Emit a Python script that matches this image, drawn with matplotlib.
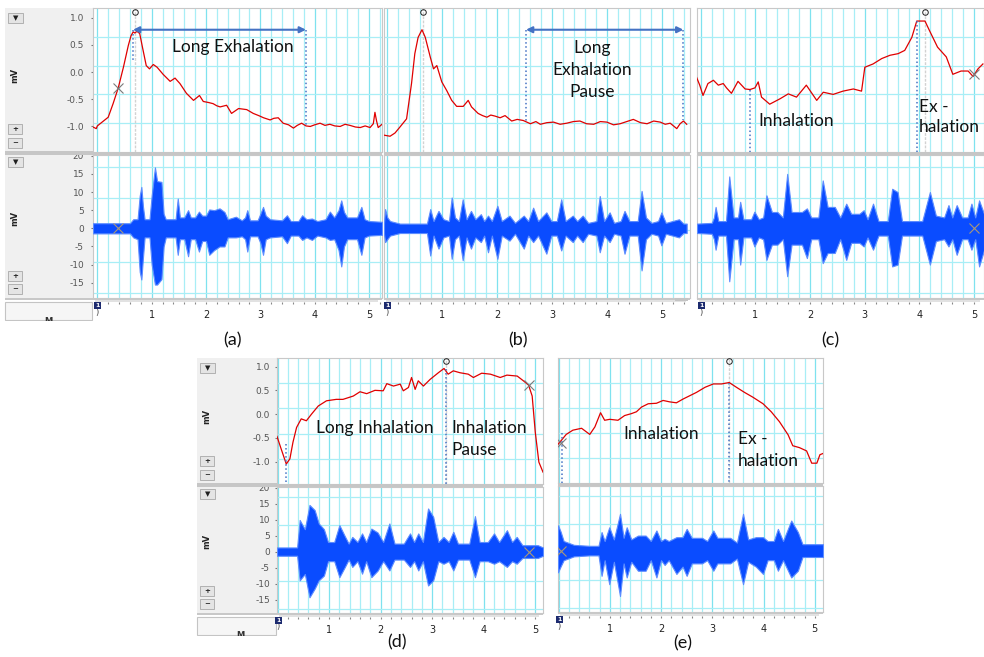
import matplotlib.pyplot as plt
from matplotlib.patches import Rectangle
import numpy as np

plt.rcParams['axes.unicode_minus'] = False

W, H = 984, 657

# breathing belt traces (time s, mV)
a_trace = [(-0.08, -1.01), (-0.02, -1.04), (0.00, -0.99), (0.20, -0.83), (0.29, -0.58),
           (0.385, -0.29), (0.48, 0.09), (0.57, 0.49), (0.62, 0.67), (0.66, 0.74),
           (0.69, 0.72), (0.73, 0.75), (0.78, 0.71), (0.83, 0.46), (0.90, 0.12),
           (0.96, 0.06), (1.03, 0.14), (1.10, 0.09), (1.21, -0.04), (1.34, -0.17),
           (1.43, -0.11), (1.52, -0.21), (1.64, -0.39), (1.77, -0.52), (1.88, -0.43),
           (1.95, -0.54), (2.05, -0.56), (2.13, -0.58), (2.20, -0.62), (2.26, -0.64),
           (2.38, -0.61), (2.47, -0.76), (2.60, -0.67), (2.75, -0.69), (2.87, -0.76),
           (2.97, -0.80), (3.06, -0.84), (3.18, -0.88), (3.25, -0.85), (3.33, -0.84),
           (3.42, -0.94), (3.52, -0.97), (3.61, -1.03), (3.68, -0.98), (3.76, -0.94),
           (3.84, -0.99), (3.92, -1.00), (4.00, -0.97), (4.10, -0.94), (4.19, -0.98),
           (4.28, -0.96), (4.37, -0.99), (4.47, -1.00), (4.56, -0.96), (4.65, -0.98),
           (4.75, -1.01), (4.84, -1.02), (4.93, -0.99), (5.02, -1.02), (5.08, -0.95),
           (5.11, -0.74), (5.14, -0.90), (5.17, -1.02), (5.24, -0.96)]
b_trace = [(-0.06, -1.16), (0.05, -1.18), (0.14, -1.12), (0.23, -1.01), (0.35, -0.86),
           (0.44, -0.21), (0.50, 0.34), (0.56, 0.64), (0.63, 0.78), (0.69, 0.64),
           (0.78, 0.28), (0.84, 0.06), (0.90, 0.12), (0.99, -0.18), (1.08, -0.34),
           (1.17, -0.52), (1.26, -0.63), (1.38, -0.63), (1.47, -0.52), (1.53, -0.64),
           (1.65, -0.76), (1.73, -0.80), (1.81, -0.83), (1.88, -0.79), (1.96, -0.81),
           (2.05, -0.84), (2.14, -0.80), (2.26, -0.90), (2.36, -0.87), (2.47, -0.89),
           (2.60, -0.95), (2.70, -0.91), (2.78, -0.96), (2.90, -0.93), (3.02, -0.92),
           (3.14, -0.96), (3.26, -0.94), (3.38, -0.91), (3.50, -0.90), (3.62, -0.95),
           (3.75, -0.96), (3.87, -0.91), (3.99, -0.92), (4.11, -0.97), (4.23, -0.95),
           (4.35, -0.91), (4.47, -0.87), (4.60, -0.93), (4.72, -0.95), (4.84, -0.90),
           (4.96, -0.92), (5.05, -0.96), (5.14, -0.94), (5.26, -1.04), (5.32, -0.95),
           (5.38, -0.90), (5.44, -0.96)]
c_trace = [(-0.08, -0.09), (-0.02, -0.24), (0.04, -0.43), (0.13, -0.21), (0.23, -0.15),
           (0.32, -0.24), (0.41, -0.21), (0.47, -0.29), (0.56, -0.39), (0.68, -0.17),
           (0.81, -0.31), (0.90, -0.32), (0.99, -0.29), (1.05, -0.18), (1.11, -0.46),
           (1.26, -0.59), (1.45, -0.49), (1.60, -0.40), (1.75, -0.46), (1.93, -0.24),
           (2.12, -0.52), (2.24, -0.37), (2.42, -0.41), (2.60, -0.35), (2.79, -0.31),
           (2.94, -0.35), (3.00, 0.09), (3.15, 0.15), (3.31, 0.25), (3.46, 0.31),
           (3.61, 0.34), (3.73, 0.40), (3.86, 0.64), (3.95, 0.94), (4.10, 0.94),
           (4.18, 0.77), (4.33, 0.46), (4.49, 0.28), (4.61, -0.04), (4.76, 0.02),
           (4.89, 0.02), (4.98, -0.08), (5.07, 0.06), (5.16, 0.15)]
d_trace = [(-0.01, -0.47), (0.07, -0.73), (0.17, -1.05), (0.24, -0.94), (0.30, -0.59),
           (0.37, -0.28), (0.46, -0.10), (0.56, -0.14), (0.66, 0.00), (0.79, 0.17),
           (0.95, 0.28), (1.14, 0.31), (1.27, 0.31), (1.47, 0.38), (1.60, 0.47),
           (1.73, 0.43), (1.89, 0.50), (2.05, 0.49), (2.12, 0.64), (2.25, 0.59),
           (2.38, 0.63), (2.44, 0.49), (2.54, 0.56), (2.60, 0.77), (2.67, 0.52),
           (2.73, 0.70), (2.83, 0.59), (2.96, 0.73), (3.12, 0.87), (3.23, 0.96),
           (3.31, 0.84), (3.41, 0.91), (3.54, 0.87), (3.70, 0.84), (3.80, 0.77),
           (3.96, 0.86), (4.13, 0.84), (4.32, 0.77), (4.45, 0.82), (4.65, 0.80),
           (4.77, 0.70), (4.87, 0.61), (4.94, 0.38), (5.00, -0.38), (5.07, -1.01),
           (5.15, -1.22)]
e_trace = [(-0.01, -0.65), (0.06, -0.56), (0.15, -0.44), (0.28, -0.35), (0.45, -0.31),
           (0.61, -0.44), (0.71, -0.28), (0.82, 0.02), (0.90, -0.14), (1.00, -0.12),
           (1.16, -0.14), (1.29, -0.04), (1.42, 0.00), (1.52, 0.04), (1.62, 0.14),
           (1.75, 0.21), (1.91, 0.22), (2.04, 0.28), (2.17, 0.25), (2.30, 0.23),
           (2.43, 0.31), (2.56, 0.38), (2.69, 0.45), (2.86, 0.56), (3.02, 0.63),
           (3.18, 0.63), (3.33, 0.66), (3.47, 0.56), (3.63, 0.45), (3.79, 0.35),
           (3.99, 0.21), (4.15, 0.04), (4.31, -0.17), (4.48, -0.45), (4.57, -0.68),
           (4.70, -0.72), (4.84, -0.79), (4.94, -1.05), (5.04, -1.05), (5.10, -0.87),
           (5.17, -0.84)]

# microphone envelopes (time s, upper mV, lower mV)
a_audio = [(-0.08, 1.4, -1.4), (0.60, 1.4, -1.4), (0.66, 2.5, -2.5), (0.74, 2.5, -3.0),
           (0.78, 9.0, -12.0), (0.81, 11.4, -14.1), (0.84, 6.0, -8.0), (0.87, 2.5, -2.5),
           (0.96, 2.5, -2.5), (1.00, 9.0, -10.0), (1.06, 16.8, -15.5), (1.10, 13.0, -15.5),
           (1.18, 12.8, -14.0), (1.22, 4.0, -5.0), (1.26, 2.5, -2.5), (1.44, 2.5, -2.5),
           (1.48, 8.2, -7.3), (1.52, 3.0, -3.0), (1.60, 3.0, -3.0), (1.67, 5.0, -7.7),
           (1.72, 3.0, -3.0), (1.80, 3.0, -3.0), (1.87, 4.6, -6.4), (1.93, 3.5, -3.5),
           (2.00, 3.5, -3.5), (2.06, 5.2, -7.3), (2.15, 5.0, -6.0), (2.25, 5.5, -5.0),
           (2.34, 4.5, -5.0), (2.40, 2.5, -2.5), (2.55, 3.2, -2.5), (2.66, 2.2, -2.2),
           (2.72, 3.0, -3.0), (2.76, 5.0, -6.4), (2.81, 2.2, -2.2), (2.95, 2.2, -2.2),
           (3.00, 4.0, -4.0), (3.05, 5.9, -7.3), (3.10, 3.5, -3.0), (3.18, 2.5, -2.5),
           (3.40, 2.2, -2.2), (3.49, 3.6, -4.1), (3.56, 2.0, -2.0), (3.70, 2.0, -2.0),
           (3.77, 3.6, -3.2), (3.85, 2.5, -2.5), (3.95, 2.7, -3.2), (4.05, 2.0, -2.0),
           (4.20, 2.5, -2.5), (4.28, 4.6, -3.2), (4.36, 3.0, -3.0), (4.44, 5.0, -6.0),
           (4.49, 7.7, -10.5), (4.54, 4.5, -5.0), (4.60, 3.0, -3.0), (4.78, 3.0, -3.0),
           (4.86, 5.9, -7.3), (4.92, 2.5, -2.5), (5.00, 2.0, -2.0), (5.24, 1.8, -1.8)]
b_audio = [(-0.06, 1.5, -1.5), (-0.04, 5.3, -3.8), (0.00, 3.0, -3.0), (0.05, 2.0, -2.0),
           (0.23, 1.3, -1.3), (0.72, 1.3, -1.3), (0.78, 5.3, -7.5), (0.84, 2.0, -2.0),
           (0.93, 4.8, -5.6), (1.02, 2.5, -2.5), (1.12, 2.0, -2.0), (1.17, 8.5, -8.4),
           (1.23, 3.0, -3.0), (1.30, 2.0, -2.0), (1.37, 8.0, -8.8), (1.44, 2.5, -2.5),
           (1.52, 4.8, -5.6), (1.60, 2.5, -2.5), (1.70, 3.9, -3.8), (1.76, 2.0, -2.0),
           (1.83, 3.5, -6.6), (1.90, 2.0, -2.0), (2.00, 6.2, -8.4), (2.08, 2.0, -2.0),
           (2.22, 3.5, -3.4), (2.32, 1.5, -1.5), (2.48, 3.5, -5.6), (2.56, 2.0, -2.0),
           (2.65, 5.7, -3.8), (2.74, 2.0, -2.0), (2.89, 4.4, -7.0), (2.98, 2.0, -2.0),
           (3.08, 2.0, -2.0), (3.16, 8.0, -6.1), (3.24, 2.0, -2.0), (3.37, 3.5, -3.8),
           (3.45, 2.0, -2.0), (3.55, 3.5, -3.8), (3.65, 1.5, -1.5), (3.80, 2.0, -2.0),
           (3.86, 8.9, -6.6), (3.94, 2.0, -2.0), (4.04, 4.4, -3.8), (4.12, 1.5, -1.5),
           (4.24, 2.0, -2.0), (4.31, 4.8, -7.0), (4.40, 2.0, -2.0), (4.55, 2.0, -2.0),
           (4.62, 10.3, -11.6), (4.70, 3.0, -3.0), (4.80, 1.5, -1.5), (4.92, 2.0, -2.0),
           (4.98, 4.4, -4.7), (5.06, 1.5, -1.5), (5.30, 2.5, -2.5), (5.38, 1.3, -1.3),
           (5.44, 1.3, -1.3)]
c_audio = [(-0.07, 1.3, -1.3), (0.20, 1.5, -1.5), (0.24, 3.0, -3.0), (0.27, 5.9, -5.9),
           (0.32, 2.0, -2.0), (0.46, 2.0, -2.0), (0.52, 14.3, -14.6), (0.60, 3.0, -3.0),
           (0.68, 3.0, -3.0), (0.72, 7.3, -10.0), (0.78, 2.5, -2.5), (0.92, 2.5, -2.5),
           (0.98, 4.6, -5.0), (1.06, 2.5, -2.5), (1.14, 3.0, -3.0), (1.20, 9.1, -8.7),
           (1.30, 4.5, -4.5), (1.40, 4.5, -4.5), (1.50, 3.0, -3.0), (1.58, 15.0, -13.2),
           (1.66, 4.5, -4.5), (1.85, 4.5, -4.5), (1.94, 5.5, -8.2), (2.02, 3.0, -3.0),
           (2.15, 3.0, -3.0), (2.23, 13.2, -9.6), (2.32, 5.9, -6.8), (2.45, 5.9, -6.8),
           (2.55, 3.0, -3.0), (2.66, 6.8, -8.7), (2.75, 4.0, -4.0), (2.90, 4.0, -4.0),
           (2.98, 5.0, -5.0), (3.05, 2.5, -2.5), (3.15, 6.8, -5.9), (3.25, 2.0, -2.0),
           (3.42, 2.0, -2.0), (3.50, 10.9, -10.5), (3.60, 10.0, -10.0), (3.68, 2.0, -2.0),
           (4.05, 2.0, -2.0), (4.19, 10.0, -10.0), (4.30, 3.5, -3.5), (4.45, 3.0, -3.0),
           (4.53, 6.4, -5.0), (4.60, 3.0, -3.0), (4.68, 6.4, -7.3), (4.78, 3.0, -3.0),
           (4.88, 3.0, -3.0), (4.95, 6.8, -5.9), (5.02, 3.0, -3.0), (5.09, 7.7, -10.5),
           (5.18, 4.0, -6.0)]
d_audio = [(-0.01, 1.3, -1.3), (0.38, 1.3, -1.3), (0.43, 9.9, -9.0), (0.53, 7.0, -7.0),
           (0.62, 14.6, -14.3), (0.72, 13.0, -11.6), (0.80, 8.8, -9.0), (0.90, 7.0, -7.5),
           (0.98, 3.0, -3.0), (1.10, 3.0, -3.0), (1.20, 8.3, -8.0), (1.30, 5.0, -5.0),
           (1.38, 2.5, -2.5), (1.45, 4.6, -4.8), (1.55, 3.0, -3.0), (1.64, 5.7, -6.9),
           (1.72, 3.0, -3.0), (1.82, 7.2, -8.0), (1.94, 6.0, -6.0), (2.05, 3.0, -3.0),
           (2.17, 8.8, -5.9), (2.27, 2.5, -2.5), (2.45, 2.5, -2.5), (2.57, 5.7, -4.8),
           (2.65, 3.0, -3.0), (2.73, 5.7, -5.9), (2.82, 3.0, -3.0), (2.92, 13.5, -10.6),
           (3.02, 10.9, -9.0), (3.12, 3.0, -3.0), (3.22, 4.6, -3.8), (3.32, 3.0, -3.0),
           (3.41, 6.2, -5.9), (3.50, 2.5, -2.5), (3.72, 2.5, -2.5), (3.83, 11.1, -8.0),
           (3.92, 3.0, -3.0), (4.08, 3.0, -3.0), (4.20, 5.7, -3.8), (4.30, 3.0, -3.0),
           (4.45, 6.7, -4.8), (4.55, 3.0, -3.0), (4.64, 4.6, -3.8), (4.75, 2.0, -2.0),
           (5.05, 2.0, -2.0), (5.15, 1.3, -1.3)]
e_audio = [(-0.01, 7.9, -6.8), (0.04, 6.0, -5.0), (0.10, 3.0, -3.0), (0.30, 1.8, -1.8),
           (0.60, 1.5, -1.5), (0.78, 1.5, -1.5), (0.84, 5.8, -7.9), (0.90, 3.0, -3.0),
           (0.99, 7.3, -10.5), (1.08, 3.5, -3.5), (1.20, 11.5, -14.2), (1.27, 4.0, -4.0),
           (1.33, 7.3, -8.4), (1.42, 3.5, -3.5), (1.55, 4.7, -6.3), (1.70, 4.7, -6.3),
           (1.80, 3.0, -3.0), (1.91, 6.3, -8.4), (2.00, 3.0, -3.0), (2.07, 3.7, -4.5),
           (2.15, 3.0, -3.0), (2.30, 4.2, -7.3), (2.42, 4.2, -5.0), (2.50, 6.8, -7.9),
           (2.60, 4.0, -4.0), (2.80, 4.0, -4.0), (2.90, 3.0, -3.0), (3.02, 6.3, -6.3),
           (3.10, 4.0, -4.0), (3.35, 4.0, -4.0), (3.48, 2.5, -2.5), (3.60, 11.5, -10.5),
           (3.70, 3.5, -3.5), (3.85, 4.2, -5.0), (3.99, 4.2, -7.3), (4.08, 3.0, -3.0),
           (4.20, 3.0, -3.0), (4.28, 6.8, -6.3), (4.38, 3.0, -3.0), (4.54, 9.4, -8.4),
           (4.67, 5.8, -6.3), (4.76, 2.0, -2.0), (5.16, 2.0, -2.0)]

# cursor ('o') time, phase boundaries (dotted) and 'x' markers per panel
cursor_t = [0.69, 0.64, 4.10, 3.26, 3.33]
phase_t = [(0.656, 3.84), (2.52, 5.38), (0.90, 3.96), (0.17, 3.26), (0.06, 3.33)]
cross_pts = [(0.385, -0.29), None, (4.99, -0.04), (4.87, 0.61), (0.05, -0.62)]

RED = '#e00000'
BLUE = '#0a4cff'
BLUE_EDGE = '#5c8cff'
PHASE = '#4472c4'
GRID = '#a8eef6'
GRID_MAJ = '#7fe2ef'
UP_LIM = (-1.47, 1.18)
LO_LIM = (-19.2, 20.2)
LO_GRID = [17.0, 8.3, -0.5, -9.2, -17.9]
TXT = dict(family='Lato', fontsize=12.5, color='#111111')

fig = plt.figure(figsize=(9.84, 6.57), dpi=100)


def rect(x0, y0, x1, y1):
    return [x0 / W, 1 - y1 / H, (x1 - x0) / W, (y1 - y0) / H]


def box(x0, y0, x1, y1, fc, ec='none', lw=0, z=-1):
    fig.add_artist(Rectangle((x0 / W, 1 - y1 / H), (x1 - x0) / W, (y1 - y0) / H,
                             transform=fig.transFigure, fc=fc, ec=ec, lw=lw, zorder=z))


def ftext(x, y, s, **kw):
    fig.text(x / W, 1 - y / H, s, **kw)


def button(x, y, w, h, s):
    box(x, y, x + w, y + h, '#e4e4e4', '#a8a8a8', 0.6, z=2)
    ftext(x + w / 2, y + h / 2, s, ha='center', va='center', fontsize=5,
          color='#202020', fontweight='bold', zorder=3)


def sidebar(sx0, x0, ytop, ysep, ybot):
    box(sx0, ytop, x0, ybot, '#f0f0f0', z=-1)
    button(sx0 + 3, ytop + 5, 15, 10, '▼')
    button(sx0 + 3, ysep - 28, 14, 10, '+')
    button(sx0 + 3, ysep - 14, 14, 10, '−')
    button(sx0 + 3, ysep + 5, 15, 10, '▼')
    button(sx0 + 3, ybot - 27, 14, 10, '+')
    button(sx0 + 3, ybot - 14, 14, 10, '−')
    ftext(sx0 + 10, (ytop + ysep) / 2 - 5, 'mV', rotation=90, ha='center', va='center',
          fontsize=6, fontweight='bold', color='#222222')
    ftext(sx0 + 10, (ysep + ybot) / 2 - 7, 'mV', rotation=90, ha='center', va='center',
          fontsize=6, fontweight='bold', color='#222222')
    # bottom-left channel box with its clipped caption
    box(sx0, ybot + 4, x0 - 1, ybot + 22, '#f6f6f6', '#c4c4c4', 0.8, z=1)
    ftext(sx0 + 43, ybot + 23, 'M', ha='center', va='center', fontsize=6,
          fontweight='bold', color='#333333', zorder=1.5)
    box(sx0 - 2, ybot + 22.5, x0, ybot + 30, 'white', z=1.8)
    box(sx0, ysep - 1, x0, ysep + 3, '#c6c6c6', z=4)


def style(ax, xlim, ylim, hgrid):
    ax.set_xlim(xlim)
    ax.set_ylim(ylim)
    for v in np.arange(0, xlim[1], 0.2):
        major = abs(v - round(v)) < 1e-6
        ax.axvline(v, color=GRID_MAJ if major else GRID, lw=0.9, zorder=0)
    for h in hgrid:
        ax.axhline(h, color=GRID, lw=0.9, zorder=0)
    ax.set_xticks([])
    for s in ax.spines.values():
        s.set_color('#c8c8c8')
        s.set_linewidth(0.8)


def panel(k, x0, x1, ytop, ysep, ybot, xlim, trace, audio, sx0=None, pad=5):
    up = fig.add_axes(rect(x0, ytop, x1, ysep))
    lo = fig.add_axes(rect(x0, ysep + 3, x1, ybot))
    style(up, xlim, UP_LIM, np.linspace(UP_LIM[1], UP_LIM[0], 6)[1:-1])
    style(lo, xlim, LO_LIM, LO_GRID)

    t, mv = zip(*trace)
    up.plot(t, mv, color=RED, lw=0.9, zorder=3)
    at, hi, lo_v = zip(*audio)
    lo.fill_between(at, lo_v, hi, facecolor=BLUE, edgecolor=BLUE_EDGE, lw=0.8, zorder=3)

    # cursor line and marker
    up.axvline(cursor_t[k], color='#d2d2d2', lw=1.0, ls=(0, (2, 1)), zorder=1)
    up.plot([cursor_t[k]], [1.11], 'o', ms=4, mfc='none', mec='#222222', mew=0.7,
            clip_on=False, zorder=5)
    if cross_pts[k] is not None:
        cx, cy = cross_pts[k]
        up.plot([cx], [cy], 'x', ms=7, color='#7a7a7a', mew=0.8, zorder=5)
        lo.plot([cx], [0], 'x', ms=7, color='#a8987a', mew=0.8, zorder=5)

    if sx0 is not None:
        sidebar(sx0, x0, ytop, ysep, ybot)
        up.set_yticks([1.0, 0.5, 0.0, -0.5, -1.0])
        up.set_yticklabels(['1.0', '0.5', '0.0', '-0.5', '-1.0'])
        lo.set_yticks([20, 15, 10, 5, 0, -5, -10, -15])
        for ax in (up, lo):
            ax.tick_params(axis='y', length=1.5, width=0.8, color='#777777', pad=pad,
                           labelsize=6.5, labelcolor='#555555')
    else:
        up.set_yticks([])
        lo.set_yticks([])

    # separator and time strip
    box(x0, ysep, x1, ysep + 3, '#c6c6c6', z=4)
    left = sx0 if sx0 is not None else x0
    box(left, ybot, x1, ybot + 2, '#c8c8c8', z=4)
    box(x0 + 2, ybot + 2, x1 - 4, ybot + 3.5, '#e2e2e2', z=4)
    strip = fig.add_axes(rect(x0, ybot + 3, x1, ybot + 4))
    strip.set_xlim(xlim)
    strip.set_yticks([])
    for s in strip.spines.values():
        s.set_visible(False)
    strip.patch.set_alpha(0)
    strip.set_xticks(range(0, 6))
    strip.set_xticklabels([''] + [str(i) for i in range(1, 6)])
    strip.set_xticks(np.arange(0, xlim[1], 0.2), minor=True)
    strip.tick_params(axis='x', which='both', length=1.5, width=0.8, color='#888888',
                      pad=4, labelsize=7, labelcolor='#222222')
    # channel marker at time zero
    zx = x0 + (0 - xlim[0]) / (xlim[1] - xlim[0]) * (x1 - x0)
    box(zx - 3, ybot + 4, zx + 4, ybot + 11, '#1d2b6f', z=5)
    ftext(zx + 0.5, ybot + 7.5, '1', ha='center', va='center', fontsize=4.5,
          color='white', fontweight='bold', zorder=6)
    ftext(zx, ybot + 14, ')', ha='center', va='center', fontsize=6, color='#444444')
    return up, lo


# (a) long exhalation
up, lo = panel(0, 93, 382, 8, 152, 298, (-0.08, 5.24), a_trace, a_audio, sx0=5, pad=5)
p1, p2 = phase_t[0]
up.annotate('', xy=(p1, 0.78), xytext=(p2, 0.78),
            arrowprops=dict(arrowstyle='<|-|>', color=PHASE, lw=1.5, mutation_scale=9,
                            shrinkA=0, shrinkB=0), zorder=6)
up.plot([p1, p1], [0.78, 0.20], color=PHASE, lw=1.1, ls=':', zorder=4)
up.plot([p2, p2], [0.78, -0.98], color=PHASE, lw=1.1, ls=':', zorder=4)
up.text(2.50, 0.47, 'Long Exhalation', ha='center', va='center', zorder=6, **TXT)

# (b) long exhalation pause
up, lo = panel(1, 384, 690, 8, 152, 298, (-0.06, 5.5), b_trace, b_audio)
p1, p2 = phase_t[1]
up.annotate('', xy=(p1, 0.78), xytext=(p2, 0.78),
            arrowprops=dict(arrowstyle='<|-|>', color=PHASE, lw=1.5, mutation_scale=9,
                            shrinkA=0, shrinkB=0), zorder=6)
up.plot([p1, p1], [0.78, -0.92], color=PHASE, lw=1.1, ls=':', zorder=4)
up.plot([p2, p2], [0.78, -0.89], color=PHASE, lw=1.1, ls=':', zorder=4)
up.text(3.72, 0.04, 'Long\nExhalation\nPause', ha='center', va='center',
        linespacing=1.45, zorder=6, **TXT)
box(675, 298, 688, 301, '#c4c4c4', z=5)

# (c) inhalation / exhalation
up, lo = panel(2, 697, 984, 8, 152, 298, (-0.07, 5.18), c_trace, c_audio)
p1, p2 = phase_t[2]
up.plot([p1, p1], [-0.33, -1.47], color=PHASE, lw=1.1, ls=':', zorder=4)
up.plot([p2, p2], [0.94, -1.47], color=PHASE, lw=1.1, ls=':', zorder=4)
up.text(1.74, -0.90, 'Inhalation', ha='center', va='center', zorder=6, **TXT)
up.text(3.99, -0.82, 'Ex -\nhalation', ha='left', va='center', linespacing=1.3,
        zorder=6, **TXT)

# (d) long inhalation and pause
up, lo = panel(3, 277, 543, 358, 484, 613, (-0.01, 5.15), d_trace, d_audio, sx0=197, pad=3.5)
p1, p2 = phase_t[3]
up.plot([p1, p1], [-0.62, -1.47], color=PHASE, lw=1.1, ls=':', zorder=4)
up.plot([p2, p2], [0.95, -1.47], color=PHASE, lw=1.1, ls=':', zorder=4)
up.text(1.89, -0.30, 'Long Inhalation', ha='center', va='center', zorder=6, **TXT)
up.text(3.37, -0.52, 'Inhalation\nPause', ha='left', va='center', linespacing=1.45,
        zorder=6, **TXT)

# (e) inhalation / exhalation
up, lo = panel(4, 558, 823, 358, 483, 612, (-0.01, 5.16), e_trace, e_audio)
p1, p2 = phase_t[4]
up.plot([p1, p1], [-0.42, -1.47], color=PHASE, lw=1.1, ls=':', zorder=4)
up.plot([p2, p2], [0.66, -1.47], color=PHASE, lw=1.1, ls=':', zorder=4)
up.text(2.00, -0.43, 'Inhalation', ha='center', va='center', zorder=6, **TXT)
up.text(3.50, -0.77, 'Ex -\nhalation', ha='left', va='center', linespacing=1.45,
        zorder=6, **TXT)

for lab, x, y in [('(a)', 232, 340), ('(b)', 518, 340), ('(c)', 830, 340),
                  ('(d)', 397, 642), ('(e)', 683, 643)]:
    ftext(x, y, lab, ha='center', va='center', family='Lato', fontsize=13, color='#111111')

fig.savefig('out.png', dpi=100)
